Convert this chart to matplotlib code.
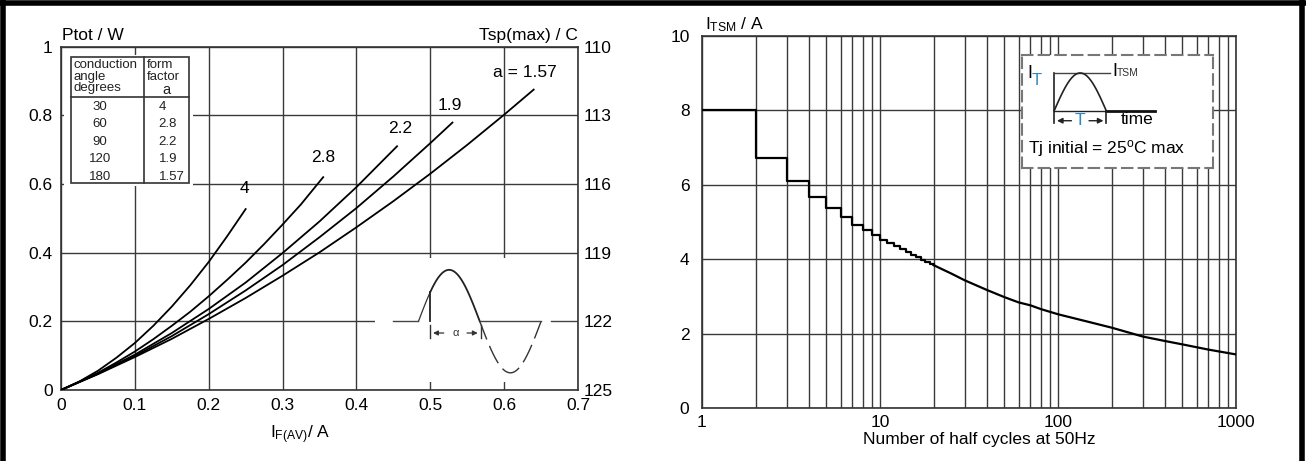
import numpy as np
import matplotlib
matplotlib.use('Agg')
import matplotlib.pyplot as plt
from matplotlib.patches import Rectangle
from matplotlib.lines import Line2D
from matplotlib.ticker import LogLocator, NullFormatter

plt.rcParams['font.family'] = ['Liberation Sans', 'DejaVu Sans']
plt.rcParams['mathtext.default'] = 'regular'

# left chart - power loss vs average forward current, one curve per form factor
form_factors = ['4', '2.8', '2.2', '1.9', '1.57']
conduction_angles = ['30', '60', '90', '120', '180']

i_ff4 = [0, 0.025, 0.05, 0.075, 0.10, 0.125, 0.15, 0.175, 0.20, 0.225, 0.25]
p_ff4 = [0, 0.025, 0.056, 0.094, 0.137, 0.187, 0.243, 0.305, 0.373, 0.448, 0.527]
i_ff28 = [0, 0.025, 0.05, 0.075, 0.10, 0.125, 0.15, 0.175, 0.20, 0.225, 0.25, 0.275, 0.30, 0.325, 0.355]
p_ff28 = [0, 0.024, 0.050, 0.080, 0.112, 0.148, 0.187, 0.228, 0.273, 0.321, 0.371, 0.425, 0.482, 0.541, 0.620]
i_ff22 = [0, 0.05, 0.10, 0.15, 0.20, 0.25, 0.30, 0.35, 0.40, 0.455]
p_ff22 = [0, 0.048, 0.103, 0.166, 0.236, 0.313, 0.399, 0.491, 0.591, 0.710]
i_ff19 = [0, 0.05, 0.10, 0.15, 0.20, 0.25, 0.30, 0.35, 0.40, 0.45, 0.50, 0.53]
p_ff19 = [0, 0.047, 0.099, 0.157, 0.221, 0.290, 0.364, 0.445, 0.530, 0.622, 0.719, 0.779]
i_ff157 = [0, 0.05, 0.10, 0.15, 0.20, 0.25, 0.30, 0.35, 0.40, 0.45, 0.50, 0.55, 0.60, 0.64]
p_ff157 = [0, 0.046, 0.096, 0.149, 0.207, 0.268, 0.333, 0.401, 0.474, 0.550, 0.630, 0.714, 0.802, 0.875]

curve_labels = ['4', '2.8', '2.2', '1.9', 'a = 1.57']
label_x = [0.248, 0.355, 0.459, 0.527, 0.628]
label_y = [0.588, 0.676, 0.763, 0.830, 0.926]

left_xticks = [0, 0.1, 0.2, 0.3, 0.4, 0.5, 0.6, 0.7]
left_xlabels = ['0', '0.1', '0.2', '0.3', '0.4', '0.5', '0.6', '0.7']
left_yticks = [0, 0.2, 0.4, 0.6, 0.8, 1.0]
left_ylabels = ['0', '0.2', '0.4', '0.6', '0.8', '1']
tsp_labels = ['125', '122', '119', '116', '113', '110']

# right chart - surge current vs number of half cycles
step_n = [1, 2, 3, 4, 5, 6, 7, 8, 9, 10, 11, 12, 13, 14, 15, 16, 17, 18, 19, 20]
step_i = [8.0, 6.73, 6.11, 5.68, 5.37, 5.14, 4.93, 4.79, 4.64, 4.52,
          4.43, 4.35, 4.27, 4.19, 4.12, 4.05, 3.99, 3.93, 3.88, 3.84]
smooth_n = [20, 25, 30, 40, 50, 60, 70, 80, 100, 150, 200, 300, 400, 500, 700, 1000]
smooth_i = [3.84, 3.62, 3.43, 3.17, 2.98, 2.84, 2.76, 2.66, 2.52, 2.31, 2.16, 1.92, 1.80, 1.71, 1.57, 1.44]

right_xticks = [1, 10, 100, 1000]
right_xlabels = ['1', '10', '100', '1000']
right_yticks = [0, 2, 4, 6, 8, 10]

FS = 12.5
GRID = '#3a3a3a'

fig = plt.figure(figsize=(13.06, 4.61), dpi=100)

# ---------------- left chart
ax = fig.add_axes([61/1306, 71/461, 517/1306, 343.3/461])
ax.set_xlim(0, 0.7)
ax.set_ylim(0, 1)
ax.set_xticks(left_xticks)
ax.set_xticklabels(left_xlabels)
ax.set_yticks(left_yticks)
ax.set_yticklabels(left_ylabels)
ax.tick_params(length=0, labelsize=FS, pad=6)
ax.grid(True, color=GRID, lw=1)
for s in ax.spines.values():
    s.set_color('#333')
    s.set_linewidth(1.2)

ax2 = ax.twinx()
ax2.set_ylim(0, 1)
ax2.set_yticks(left_yticks)
ax2.set_yticklabels(tsp_labels)
ax2.tick_params(length=0, labelsize=FS, pad=4)
for s in ax2.spines.values():
    s.set_visible(False)

curves = [(i_ff4, p_ff4), (i_ff28, p_ff28), (i_ff22, p_ff22), (i_ff19, p_ff19), (i_ff157, p_ff157)]
for (xs, ys), lab, lx, ly in zip(curves, curve_labels, label_x, label_y):
    ax.plot(xs, ys, color='black', lw=1.3, zorder=3)
    ax.text(lx, ly, lab, fontsize=FS, ha='center', va='center', zorder=4)

ax.text(0.002, 1.034, 'Ptot / W', transform=ax.transAxes, fontsize=FS, ha='left', va='center')
ax.text(1.0, 1.034, 'Tsp(max) / C', transform=ax.transAxes, fontsize=FS, ha='right', va='center')
ax.text(0.462, -0.131, 'I$_{F(AV)}$/ A', transform=ax.transAxes, fontsize=FS, ha='center', va='center')

# table of conduction angle / form factor
ax.add_patch(Rectangle((0.004, 0.594), 0.175, 0.382, facecolor='white', edgecolor='none', zorder=1.6))
ax.add_patch(Rectangle((0.013, 0.603), 0.160, 0.366, fill=False, edgecolor='#333', lw=1.2, zorder=3))
ax.plot([0.113, 0.113], [0.603, 0.969], color='#333', lw=1.2, zorder=3)
ax.plot([0.013, 0.173], [0.853, 0.853], color='#333', lw=1.2, zorder=3)
ax.text(0.017, 0.963, 'conduction\nangle\ndegrees', fontsize=9.5, ha='left', va='top',
        linespacing=0.92, color='#222', zorder=4)
ax.text(0.116, 0.963, 'form\nfactor', fontsize=9.5, ha='left', va='top',
        linespacing=0.92, color='#222', zorder=4)
ax.text(0.143, 0.874, 'a', fontsize=10.5, ha='center', va='center', color='#222', zorder=4)
row_y = [0.825, 0.775, 0.723, 0.672, 0.621]
for ang, ff, ry in zip(conduction_angles, form_factors, row_y):
    ax.text(0.053, ry, ang, fontsize=9.5, ha='center', va='center', color='#222', zorder=4)
    ax.text(0.132, ry, ff, fontsize=9.5, ha='left', va='center', color='#222', zorder=4)

# waveform sketch
ax.add_patch(Rectangle((0.425, 0.024), 0.273, 0.361, facecolor='white', edgecolor='none', zorder=1.6))
x0, per, base, amp = 0.484, 0.166, 0.2, 0.15
t = np.linspace(x0, 0.5, 10)
ax.plot(t, base + amp*np.sin(2*np.pi*(t - x0)/per), color='#333', lw=0.9, zorder=3)
t = np.linspace(0.5, x0 + per/2, 60)
ax.plot(t, base + amp*np.sin(2*np.pi*(t - x0)/per), color='#222', lw=1.3, zorder=3)
t = np.linspace(x0 + per/2, x0 + per, 60)
ax.plot(t, base + amp*np.sin(2*np.pi*(t - x0)/per), color='#333', lw=1.0,
        dashes=(14, 5), zorder=3)
ys0 = base + amp*np.sin(2*np.pi*(0.5 - x0)/per)
ax.plot([0.5, 0.5], [base, ys0], color='#222', lw=1.3, zorder=3)
ax.plot([x0 + per/2, x0 + per], [base, base], color='#444', lw=1.0, zorder=3)
ax.plot([0.449, x0], [base, base], color='#444', lw=1.0, zorder=3)
ax.plot([0.664, 0.698], [base, base], color='#444', lw=1.0, zorder=3)
ax.plot([0.5, 0.5], [0.152, 0.19], color='#333', lw=1.0, zorder=3)
ax.plot([0.568, 0.568], [0.152, 0.19], color='#333', lw=1.0, zorder=3)
for xa, xb in [(0.522, 0.5), (0.546, 0.568)]:
    ax.annotate('', xy=(xb, 0.166), xytext=(xa, 0.166),
                arrowprops=dict(arrowstyle='-|>', color='#333', lw=0.9, mutation_scale=7), zorder=3)
ax.text(0.534, 0.166, 'α', fontsize=8, ha='center', va='center', color='#333', zorder=3)

# ---------------- right chart
axr = fig.add_axes([702/1306, 53/461, 534/1306, 372/461])
axr.set_xscale('log')
axr.set_xlim(1, 1000)
axr.set_ylim(0, 10)
axr.set_xticks(right_xticks)
axr.set_xticklabels(right_xlabels)
axr.xaxis.set_minor_locator(LogLocator(base=10, subs=np.arange(2, 10)))
axr.xaxis.set_minor_formatter(NullFormatter())
axr.set_yticks(right_yticks)
axr.tick_params(which='both', length=0, labelsize=FS)
axr.tick_params(axis='y', pad=9)
axr.tick_params(axis='x', pad=5)
axr.grid(True, which='both', axis='x', color=GRID, lw=1)
axr.grid(True, which='major', axis='y', color=GRID, lw=1)
for s in axr.spines.values():
    s.set_color('#333')
    s.set_linewidth(1.2)

axr.plot(step_n, step_i, drawstyle='steps-post', color='black', lw=1.6, zorder=3)
axr.plot(smooth_n, smooth_i, color='black', lw=1.6, zorder=3)

axr.text(0.006, 1.03, 'I$_{TSM}$ / A', transform=axr.transAxes, fontsize=FS, ha='left', va='center')
axr.text(0.52, -0.086, 'Number of half cycles at 50Hz', transform=axr.transAxes,
         fontsize=FS, ha='center', va='center')

# pulse sketch inset
ins = axr.inset_axes([0.599, 0.645, 0.358, 0.304])
ins.set_xlim(0, 191)
ins.set_ylim(113, 0)
ins.set_xticks([])
ins.set_yticks([])
for s in ins.spines.values():
    s.set_color('#777')
    s.set_linewidth(1.5)
    s.set_linestyle((0, (5, 3)))
blue = '#2e86c1'
ins.plot([32.3, 32.3], [18, 68], color='#222', lw=1.2)
ins.plot([32.3, 88.3], [18, 18], color='#444', lw=1.0)
t = np.linspace(0, 1, 50)
ins.plot(32.3 + 52*t, 55.7 - 37.7*np.sin(np.pi*t), color='#222', lw=1.2)
ins.plot([32.3, 84.3], [55.7, 55.7], color='#222', lw=1.0)
ins.plot([84.3, 133.3], [55.7, 55.7], color='#111', lw=2.0)
ins.plot([84.3, 84.3], [55.7, 68], color='#222', lw=1.2)
for xa, xb in [(52.3, 32.3), (64.3, 84.3)]:
    ins.annotate('', xy=(xb, 65.7), xytext=(xa, 65.7),
                 arrowprops=dict(arrowstyle='-|>', color='#222', lw=1.0, mutation_scale=8))
ins.text(58.3, 65.7, 'T', color=blue, fontsize=12.5, ha='center', va='center')
ins.text(115, 64.5, 'time', fontsize=12.5, ha='center', va='center')
ins.text(5.3, 19, 'I', fontsize=13, ha='left', va='center')
ins.text(9.5, 26, 'T', color=blue, fontsize=12, ha='left', va='center')
ins.text(90, 16.5, 'I', fontsize=13, ha='left', va='center')
ins.text(94.5, 18, 'TSM', fontsize=7.5, ha='left', va='center', color='#333')
ins.text(6.3, 93, 'Tj initial = 25$^{o}$C max', fontsize=12.5, ha='left', va='center')

# frame around the whole picture
for xs, ys in [([0, 1], [1 - 3/461, 1 - 3/461]), ([2.5/1306, 2.5/1306], [0, 1]),
               ([1301.5/1306, 1301.5/1306], [0, 1])]:
    fig.add_artist(Line2D(xs, ys, transform=fig.transFigure, color='black', lw=4))

fig.savefig('out.png', dpi=100)
